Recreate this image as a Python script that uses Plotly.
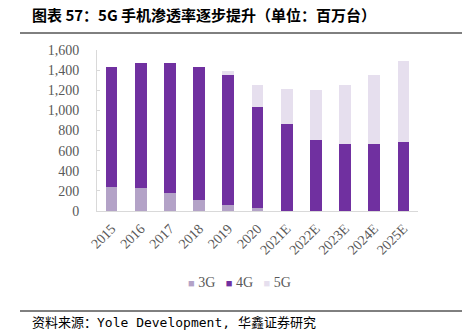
import plotly.graph_objects as go

categories = ["2015", "2016", "2017", "2018", "2019", "2020", "2021E", "2022E", "2023E", "2024E", "2025E"]
g3 = [238, 228, 179, 109, 60, 30, 5, 0, 0, 0, 0]
g4 = [1190, 1240, 1289, 1322, 1295, 1004, 860, 709, 663, 666, 686]
g5 = [0, 0, 0, 0, 34, 221, 345, 497, 589, 686, 805]
y_ticks = [0, 200, 400, 600, 800, 1000, 1200, 1400, 1600]

W, H = 462, 333
L, R, T, B = 97, 418, 50, 211

def xp(px):
    return (px - L) / (R - L)

def yp(py):
    return (B - py) / (B - T)

fig = go.Figure()
colors = {"3G": "#B3A2C7", "4G": "#7030A0", "5G": "#E6DFEE"}
for name, vals in [("3G", g3), ("4G", g4), ("5G", g5)]:
    fig.add_trace(go.Bar(x=categories, y=vals, name=name, showlegend=False,
                         marker=dict(color=colors[name], line=dict(width=0))))

tickfont = dict(family="Liberation Serif", size=14, color="#595959")
fig.update_layout(
    width=W, height=H,
    barmode="stack", bargap=0.6,
    plot_bgcolor="white", paper_bgcolor="white",
    margin=dict(l=L, r=W - R, t=T, b=H - B, pad=0),
    font=dict(family="Liberation Serif", size=14, color="#595959"),
    xaxis=dict(tickangle=-45, showline=True, linecolor="#D9D9D9", linewidth=1,
               ticks="", ticklabelstandoff=3, tickfont=tickfont),
    yaxis=dict(range=[0, 1600], tickvals=y_ticks, tickformat=",d", showgrid=False,
               showline=True, linecolor="#D9D9D9", linewidth=1,
               ticks="inside", ticklen=3, tickcolor="#D9D9D9", zeroline=False,
               ticklabelstandoff=14, tickfont=tickfont),
)

legend_html = "&nbsp;&nbsp;&nbsp;".join(
    f'<span style="color:{colors[n]};font-size:11px">■</span>&nbsp;{n}'
    for n in ["3G", "4G", "5G"]
)
fig.add_annotation(text=legend_html, xref="paper", yref="paper", x=xp(239), y=yp(282),
                   xanchor="center", yanchor="middle", showarrow=False,
                   font=dict(family="Liberation Serif", size=14, color="#595959"))

fig.add_annotation(text="<b>图表 57：5G 手机渗透率逐步提升（单位：百万台）</b>",
                   xref="paper", yref="paper", x=xp(30), y=yp(14), xanchor="left", yanchor="middle",
                   showarrow=False, font=dict(family="Noto Sans CJK SC", size=15, color="black"))
fig.add_annotation(text="资料来源：Yole Development, 华鑫证券研究",
                   xref="paper", yref="paper", x=xp(30), y=yp(322), xanchor="left", yanchor="middle",
                   showarrow=False, font=dict(family="DejaVu Sans Mono, Noto Sans CJK SC", size=13, color="black"))
fig.add_shape(type="line", xref="paper", yref="paper", x0=xp(20), x1=xp(462), y0=yp(33), y1=yp(33),
              line=dict(color="black", width=1))
fig.add_shape(type="line", xref="paper", yref="paper", x0=xp(20), x1=xp(462), y0=yp(311), y1=yp(311),
              line=dict(color="black", width=1))

fig.write_html("out.html")
